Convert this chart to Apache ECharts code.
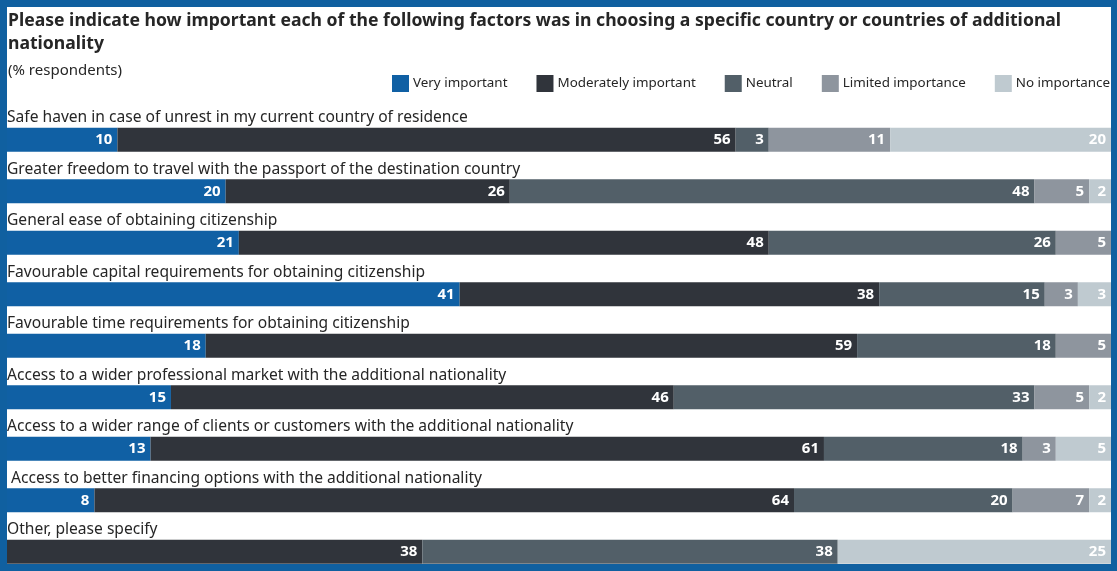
<!DOCTYPE html>
<html>
<head>
<meta charset="utf-8">
<script src="https://cdn.jsdelivr.net/npm/echarts@6/dist/echarts.min.js"></script>
<style>
  html, body { margin: 0; padding: 0; background: #1060a0; }
  #chart { width: 1117px; height: 571px; }
</style>
</head>
<body>
<div id="chart"></div>
<script>
// categories, top to bottom
var categories = [
  'Safe haven in case of unrest in my current country of residence',
  'Greater freedom to travel with the passport of the destination country',
  'General ease of obtaining citizenship',
  'Favourable capital requirements for obtaining citizenship',
  'Favourable time requirements for obtaining citizenship',
  'Access to a wider professional market with the additional nationality',
  'Access to a wider range of clients or customers with the additional nationality',
  ' Access to better financing options with the additional nationality',
  'Other, please specify'
];
var seriesNames = ['Very important', 'Moderately important', 'Neutral', 'Limited importance', 'No importance'];
var veryImportant       = [10, 20, 21, 41, 18, 15, 13, 8, 0];
var moderatelyImportant = [56, 26, 48, 38, 59, 46, 61, 64, 38];
var neutral             = [3, 48, 26, 15, 18, 33, 18, 20, 38];
var limitedImportance   = [11, 5, 5, 3, 5, 5, 3, 7, 0];
var noImportance        = [20, 2, 0, 3, 0, 2, 5, 2, 25];
var colors = ['#1060a4', '#30343b', '#525f68', '#8e959e', '#bfcad0'];

var allSeries = [veryImportant, moderatelyImportant, neutral, limitedImportance, noImportance];
// rows that add up to 101 still fill the whole width
var rowTotals = categories.map(function (c, i) {
  return allSeries.reduce(function (s, arr) { return s + arr[i]; }, 0);
});

var font = '"Noto Sans", sans-serif';
var chart = echarts.init(document.getElementById('chart'));

chart.setOption({
  backgroundColor: '#1060a0',
  animation: false,
  graphic: [{
    type: 'rect', z: -10,
    shape: { x: 7, y: 7, width: 1104, height: 557 },
    style: { fill: '#ffffff' }
  }],
  title: {
    text: 'Please indicate how important each of the following factors was in choosing a specific country or countries of additional\nnationality',
    subtext: '(% respondents)',
    left: 3, top: 4,
    itemGap: 8,
    textStyle: { fontFamily: font, fontWeight: 'bold', fontSize: 17.6, color: '#262626', lineHeight: 23 },
    subtextStyle: { fontFamily: font, fontSize: 15, color: '#262626' }
  },
  legend: {
    data: seriesNames,
    right: 2, top: 70,
    itemWidth: 17, itemHeight: 17, itemGap: 29,
    icon: 'rect',
    textStyle: { fontFamily: font, fontSize: 13.4, color: '#262626', padding: [0, 0, 0, -1] }
  },
  grid: { left: 7, right: 6, top: 114, height: 463.5, outerBoundsMode: 'none', containLabel: false },
  xAxis: { type: 'value', min: 0, max: 100, show: false },
  yAxis: {
    type: 'category', inverse: true, data: categories, z: 10,
    axisLine: { show: false }, axisTick: { show: false },
    axisLabel: {
      inside: true, margin: 0, align: 'left', verticalAlign: 'middle', interval: 0,
      formatter: function (v) { return '{a|' + v + '}\n{b|}'; },
      rich: {
        a: { fontFamily: font, fontSize: 15.6, color: '#262626', height: 20, lineHeight: 20 },
        b: { height: 44, lineHeight: 44 }
      }
    }
  },
  series: allSeries.map(function (arr, k) {
    return {
      name: seriesNames[k], type: 'bar', stack: 'all',
      barWidth: 24,
      itemStyle: { color: colors[k] },
      label: {
        show: true, position: 'insideRight', distance: 5,
        color: '#ffffff', fontFamily: font, fontWeight: 'bold', fontSize: 15,
        formatter: function (p) { return p.data.raw ? String(p.data.raw) : ''; }
      },
      data: arr.map(function (v, i) { return { value: v * 100 / rowTotals[i], raw: v }; })
    };
  })
});
</script>
</body>
</html>
